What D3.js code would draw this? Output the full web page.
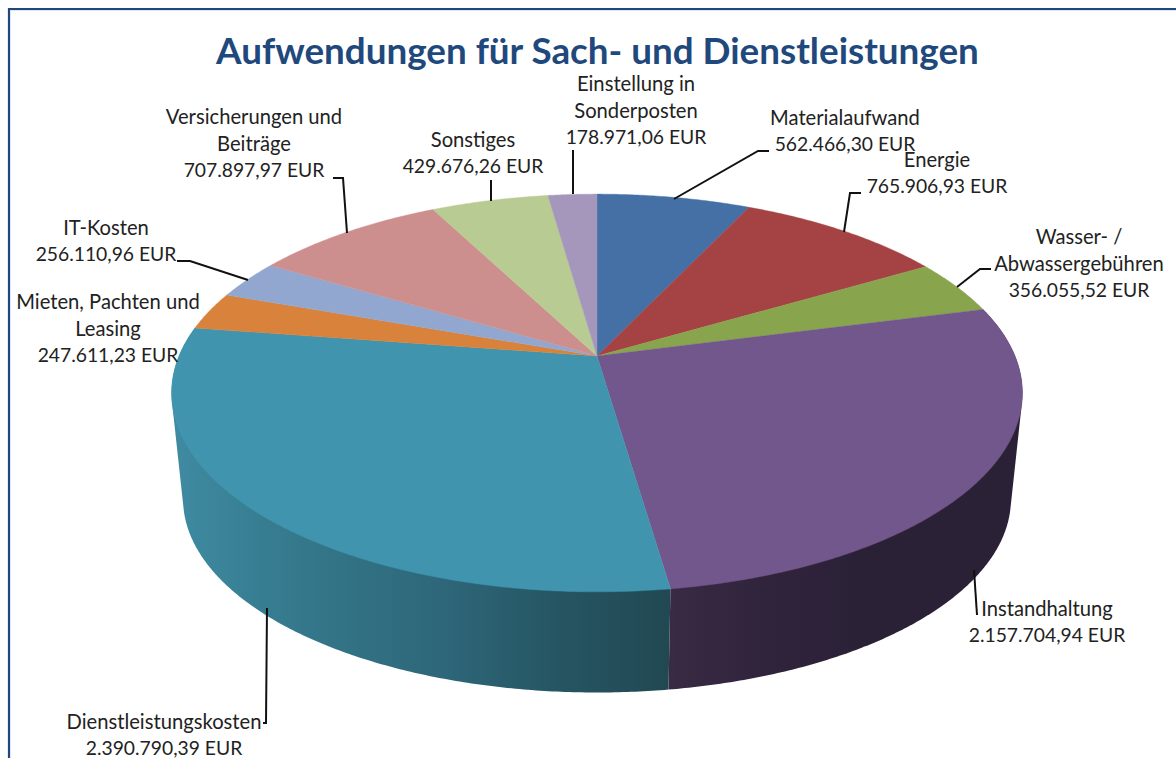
<!DOCTYPE html>
<html lang="de">
<head>
<meta charset="utf-8">
<script src="https://cdn.jsdelivr.net/npm/d3@7"></script>
<style>
html,body{margin:0;padding:0;background:#fff;overflow:hidden}
svg{display:block}
text{font-family:Lato,"Open Sans",sans-serif}
</style>
</head>
<body>
<svg id="c" width="1176" height="758"></svg>
<script>
const chartTitle = "Aufwendungen für Sach- und Dienstleistungen";
const categories = ["Materialaufwand","Energie","Wasser- / Abwassergebühren","Instandhaltung","Dienstleistungskosten","Mieten, Pachten und Leasing","IT-Kosten","Versicherungen und Beiträge","Sonstiges","Einstellung in Sonderposten"];
const values = [562466.30,765906.93,356055.52,2157704.94,2390790.39,247611.23,256110.96,707897.97,429676.26,178971.06];
const valueLabels = ["562.466,30 EUR","765.906,93 EUR","356.055,52 EUR","2.157.704,94 EUR","2.390.790,39 EUR","247.611,23 EUR","256.110,96 EUR","707.897,97 EUR","429.676,26 EUR","178.971,06 EUR"];
const nameLines = [["Materialaufwand"],["Energie"],["Wasser- /","Abwassergebühren"],["Instandhaltung"],["Dienstleistungskosten"],["Mieten, Pachten und","Leasing"],["IT-Kosten"],["Versicherungen und","Beiträge"],["Sonstiges"],["Einstellung in","Sonderposten"]];
const topColors = ["#4570a6","#a54344","#88a44c","#72578c","#4094ae","#d9823b","#92a7cf","#cd8f8e","#b8cb93","#a597bc"];

// label layout: centre x, last-line baseline
const labelX = [845,937,1079,1047,164,108,106,254,473,636];
const labelY = [151,193,297,642,755,362,261,177,173,144];
const lineStep = 26.5;
// leader polylines
const leaders = [
 [[769,151],[758,151],[674,199]],
 [[861,193],[850,193],[844,232]],
 [[991,269],[980,269],[957,287]],
 [[977,615],[974,570]],
 [[263,723],[266,723],[267,608]],
 null,
 [[177,261],[190,261],[248,280]],
 [[333,178],[343,178],[347,233]],
 [[491,180],[491,201]],
 [[573,150],[573,194]]
];

const svg = d3.select("#c");
const cx = 597, cy = 356, A = 418, B = 192, k = 0.186;
const bScale = 0.973, bDrop = 107;

function topPt(t){
  const w = 1 + k*Math.cos(t);
  return [cx + A*Math.sin(t)/w, cy - B*Math.cos(t)/w];
}
function botPt(t){
  const p = topPt(t);
  return [cx + bScale*(p[0]-cx), cy + bDrop + bScale*(p[1]-cy)];
}
const arcs = d3.pie().sort(null).value(d=>d).startAngle(0).endAngle(2*Math.PI)(values);
const line = d3.line().curve(d3.curveLinear);
const samples = (a,b)=>d3.range(0,1.0001,1/Math.max(2,Math.ceil((b-a)*120))).map(f=>a+(b-a)*f);

// outer frame
svg.append("path").attr("d","M9,758V9H1176").attr("fill","none").attr("stroke","#1f497d").attr("stroke-width",2.2);
svg.append("path").attr("d","M10.5,758V10.5H1176").attr("fill","none").attr("stroke","#dbe7f3").attr("stroke-width",1);

// gradients for side walls
const defs = svg.append("defs");
function grad(id,stops){
  const g = defs.append("linearGradient").attr("id",id).attr("gradientUnits","userSpaceOnUse")
    .attr("x1",172).attr("x2",1023).attr("y1",0).attr("y2",0);
  stops.forEach(s=>g.append("stop").attr("offset",(s[0]-172)/851).attr("stop-color",s[1]));
}
grad("sideTeal",[[172,"#3f8ba2"],[250,"#387f94"],[330,"#337487"],[450,"#2d6678"],[560,"#265562"],[670,"#214853"]]);
grad("sidePurple",[[668,"#3a2a44"],[760,"#30243c"],[860,"#2b2137"],[1023,"#2b2137"]]);

// side walls: only slices that face the viewer; hull gives the straight silhouette tangents
const hTop = Math.PI/2, hBot = 3*Math.PI/2;
arcs.filter(d=>d.endAngle>hTop && d.startAngle<hBot && (d.endAngle-d.startAngle)>1).forEach((d)=>{
  const ts = samples(d.startAngle,d.endAngle);
  const pts = d3.polygonHull(ts.map(topPt).concat(ts.map(botPt)));
  svg.append("path").attr("d",line(pts)+"Z")
    .attr("fill", d.index===3 ? "url(#sidePurple)" : "url(#sideTeal)");
});

// top face
svg.append("g").selectAll("path").data(arcs).join("path")
  .attr("d",d=>{
    const pts = [[cx,cy]].concat(samples(d.startAngle,d.endAngle).map(topPt));
    return line(pts)+"Z";
  })
  .attr("fill",(d,i)=>topColors[i])
  .attr("stroke",(d,i)=>topColors[i]).attr("stroke-width",0.4);

// leaders
svg.append("g").selectAll("path").data(leaders.filter(Boolean)).join("path")
  .attr("d",d=>line(d)).attr("fill","none").attr("stroke","#111").attr("stroke-width",2);

// labels
const g = svg.append("g").attr("fill","#222").attr("text-anchor","middle");
categories.forEach((c,i)=>{
  const lines = nameLines[i].concat([valueLabels[i]]);
  lines.forEach((t,j)=>{
    g.append("text").attr("x",labelX[i]).attr("y",labelY[i]-(lines.length-1-j)*lineStep)
      .attr("font-size", j===lines.length-1 ? 19.3 : 20.2).text(t);
  });
});

// title
svg.append("text").attr("x",597.5).attr("y",63.5).attr("text-anchor","middle")
  .attr("font-size",36.8).attr("font-weight",700).attr("fill","#1f497d").text(chartTitle);
</script>
</body>
</html>
